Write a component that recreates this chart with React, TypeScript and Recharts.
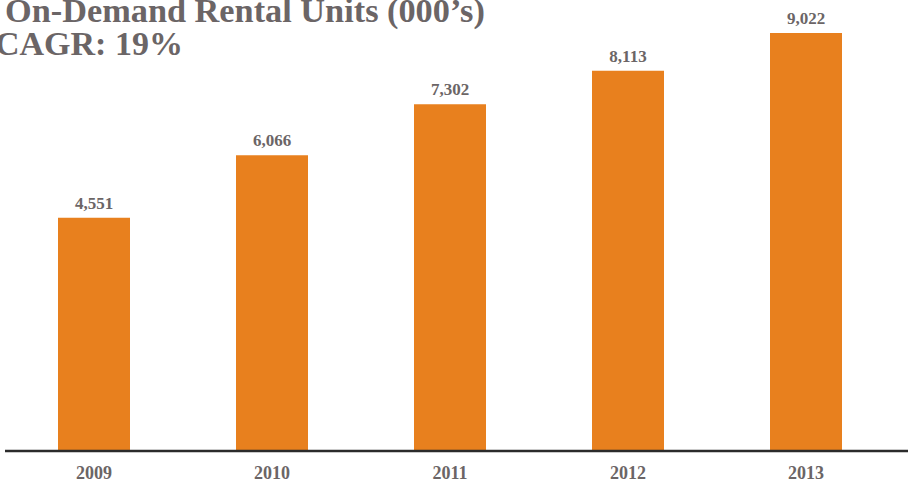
import React from "react";
import { BarChart, Bar, XAxis, YAxis, LabelList } from "recharts";

const categories = ["2009", "2010", "2011", "2012", "2013"];
const values = [4551, 6066, 7302, 8113, 9022];
const titleLine1 = "On-Demand Rental Units (000\u2019s)";
const titleLine2 = "CAGR: 19%";

const AXIS_MIN = -1100;
const AXIS_MAX = 9800;

const data = categories.map((c, i) => ({ year: c, value: values[i] }));

const TEXT = "#6b6566";
const ORANGE = "#e8801e";
const FONT = "'Liberation Serif', 'Times New Roman', serif";

export default function App() {
  return (
    <div style={{ position: "absolute", left: 0, top: 0, width: 908, height: 482, background: "#fff" }}>
      <BarChart
        width={908}
        height={482}
        data={data}
        margin={{ top: 1, right: 0, bottom: 0, left: 5 }}
        barCategoryGap={53}
      >
        <XAxis
          dataKey="year"
          height={31}
          padding={{ left: 0, right: 13 }}
          axisLine={{ stroke: "#2b2b2b", strokeWidth: 2.5 }}
          tickLine={false}
          tick={{ fill: TEXT, fontFamily: FONT, fontWeight: "bold", fontSize: 18 }}
          tickMargin={9}
          interval={0}
        />
        <YAxis hide domain={[AXIS_MIN, AXIS_MAX]} type="number" />
        <Bar
          dataKey={(d: any) => [AXIS_MIN, d.value]}
          fill={ORANGE}
          isAnimationActive={false}
        >
          <LabelList
            dataKey="value"
            position="top"
            offset={9}
            formatter={(v: any) => Number(v).toLocaleString("en-US")}
            style={{ fill: TEXT, fontFamily: FONT, fontWeight: "bold", fontSize: 17 }}
          />
        </Bar>
      </BarChart>
      <svg
        width={908}
        height={482}
        style={{ position: "absolute", left: 0, top: 0, pointerEvents: "none" }}
      >
        <text x={5} y={22} fill={TEXT} fontFamily={FONT} fontWeight="bold" fontSize={34.3}>
          {titleLine1}
        </text>
        <text x={-5} y={55} fill={TEXT} fontFamily={FONT} fontWeight="bold" fontSize={34}>
          {titleLine2}
        </text>
      </svg>
    </div>
  );
}
